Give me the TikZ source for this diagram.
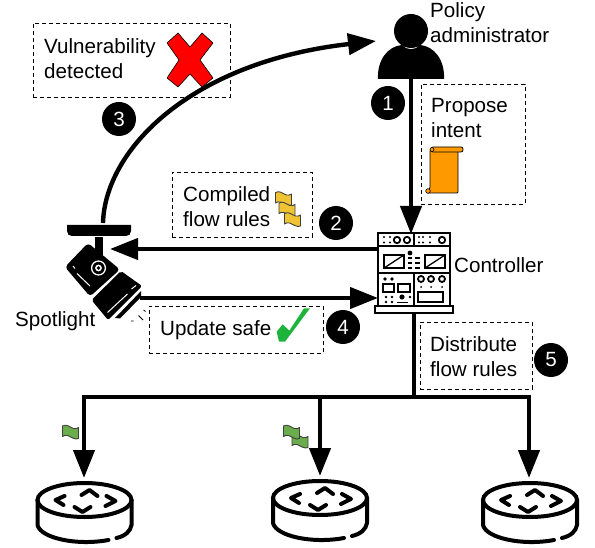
\documentclass[tikz,border=0pt]{standalone}
\usepackage{fontspec}
\setmainfont{Liberation Sans}
\usetikzlibrary{arrows.meta}
\definecolor{flaggreen}{RGB}{106,173,76}
\definecolor{flagyellow}{RGB}{240,195,50}
\definecolor{scrollorange}{RGB}{255,153,0}
\definecolor{checkgreen}{RGB}{30,180,60}
\definecolor{crossred}{RGB}{255,0,0}
\tikzset{
 lbl/.style={font=\fontsize{20.6}{25}\selectfont,align=left,inner sep=0pt,anchor=west},
 dbox/.style={draw,line width=0.9pt,dash pattern=on 4pt off 3pt},
 conn/.style={line width=4.4pt,-{Triangle[length=28pt,width=21pt]}},
 num/.style={circle,fill=black,text=white,minimum size=34pt,inner sep=0pt,font=\fontsize{20.6}{22}\selectfont},
 router/.pic={
  \draw[line width=4pt] (0,0) ellipse (47 and 17);
  \draw[line width=4pt,line cap=round] (-47,0) -- (-47,25) .. controls (-44,38) and (-8,46) .. (24,40);
  \draw[line width=4pt,line cap=round] (47,0) -- (47,25) .. controls (46,31) and (41,36) .. (32,38);
  \draw[line width=4pt,line cap=round,line join=round] (-20,-4) -- (-29,0) -- (-21,5);
  \draw[line width=4pt,line cap=round,line join=round] (22,-4) -- (31,1) -- (21,6);
  \draw[line width=4pt,line cap=round,line join=round] (-3,-5) -- (5,-10) -- (13,-4);
  \draw[line width=4pt,line cap=round,line join=round] (-10,7) -- (-2,12) -- (6,7);
 },
 flagshape/.pic={
  \draw[pic actions,draw=black!75,line width=0.9pt,line join=round] (-8,-6.5) .. controls (-4,-9) and (0,-5) .. (3,-4) .. controls (5,-3.5) and (7,-4) .. (8,-5) -- (8,6) .. controls (5,8) and (0,4) .. (-3,3) .. controls (-5,2.5) and (-7,3) .. (-8,4) -- cycle;
 }
}
\begin{document}
\begin{tikzpicture}[x=1pt,y=-1pt]
\useasboundingbox (0,0) rectangle (595,548);
% dashed boxes
\node[dbox,minimum width=197pt,minimum height=74pt,anchor=north west] (bv) at (33,23) {};
\node[dbox,minimum width=104pt,minimum height=120pt,anchor=north west] (bp) at (421,84) {};
\node[dbox,minimum width=140pt,minimum height=65pt,anchor=north west] (bc) at (172,172) {};
\node[dbox,minimum width=174pt,minimum height=47pt,anchor=north west] (bu) at (149,306) {};
\node[dbox,minimum width=112pt,minimum height=67pt,anchor=north west] (bd) at (420,322) {};
% anchors for connectors
\coordinate (pa) at (411,79);
\coordinate (ctl) at (411,234);
\coordinate (ctlb) at (414,313);
\coordinate (bus) at (414,397);
\coordinate (busl) at (84,397);
\coordinate (busm) at (320,397);
\coordinate (busr) at (529,397);
\coordinate (r1) at (84,478);
\coordinate (r2) at (320,476);
\coordinate (r3) at (529,478);
\coordinate (camtop) at (103,223);
\coordinate (patop) at (376,41);
\coordinate (camr) at (110,249);
\coordinate (ctll) at (380,249);
\coordinate (camr2) at (140,298);
\coordinate (ctll2) at (378,298);
% connectors
\draw[conn] (pa) -- (ctl);
\draw[conn] (camtop) .. controls (105,150) and (190,62) .. (patop);
\draw[conn] (ctll) -- (camr);
\draw[conn] (camr2) -- (ctll2);
\draw[line width=4.4pt] (ctlb) -- (bus);
\draw[line width=4.4pt,line cap=rect] (busl) -- (busr);
\draw[conn] (busl) -- (r1);
\draw[conn] (busm) -- (r2);
\draw[conn] (busr) -- (r3);
% person
\fill (411,31) circle (17);
\fill (378,79) .. controls (377,60) and (388,46) .. (402,45) .. controls (406,50.5) and (416,50.5) .. (420,45) .. controls (434,46) and (445,60) .. (444,79) -- cycle;
% Controller
\begin{scope}[shift={(414,270)}]
 \draw[line width=2.5pt,fill=white] (-36,-37) rectangle (36,36);
 \draw[line width=2.5pt] (-36,-24) -- (36,-24) (-36,3) -- (36,3);
 \draw[line width=2.5pt] (0,-37) -- (0,-24);
 \draw[line width=2.5pt] (0,3) -- (0,36);
 \draw[line width=2.5pt,fill=white] (-39,36) rectangle (39,43);
 % top row
 \foreach \x/\y in {-30/-33,-24/-33,-30/-27.5,-24/-27.5,5/-33,9/-33,16/-33,5/-27.5,9/-27.5,16/-27.5}{\fill (\x,\y) circle (1.2);}
 \foreach \x in {-17,-7,28}{\draw[line width=1.8pt] (\x,-30) circle (3.2);}
 % meters
 \foreach \x in {-30,11}{\draw[line width=2pt] (\x,-15) rectangle (\x+20,-2); \draw[line width=1.3pt] (\x,-2) -- (\x+20,-15);}
 \fill (-4,-17) circle (2.4);
 \foreach \y in {-12,-7,-2}{\fill (-6,\y-1) rectangle (-2,\y+1); \fill (1,\y-1) rectangle (6,\y+1);}
 % lower left
 \foreach \x in {-29,-22}{\fill (\x,9) circle (1.8);}
 \draw[line width=2pt] (-31,14) rectangle (-20,22);
 \draw[line width=2pt] (-16,14) rectangle (-4,22);
 \foreach \x/\y in {-28/27,-22/27,-28/32,-22/32,-4/27}{\fill (\x,\y) circle (1.4);}
 \fill (-12,27) circle (2.6);
 \fill (-17,32) rectangle (-6,33.5);
 % lower right
 \foreach \x in {7,17,28}{\draw[line width=1.8pt] (\x,9) circle (3); \fill (\x,17) circle (1);}
 \draw[line width=2pt] (4,22) rectangle (29,32);
\end{scope}
% camera
\fill (67,225) -- (131,225) -- (131,231) .. controls (131,234) and (129,236) .. (126,236) -- (72,236) .. controls (69,236) and (67,234) .. (67,231) -- cycle;
\fill[rounded corners=3.5pt] (65,267) -- (88,243) -- (120,269.5) -- (90,296.5) -- cycle;
\fill[rounded corners=2pt] (91.5,300) -- (121,271) -- (142,286) -- (108,320) -- cycle;
\fill (141,291) -- (115,318) -- (120,318.5) -- (141,297) -- cycle;
\draw[white,line width=1pt] (73,266) -- (75,268.5);
\draw[white,line width=1pt] (77,273.5) -- (90,286);
\draw[white,line width=1pt] (131.5,289) -- (136,285.5);
\draw[white,line width=1pt] (107.5,312.5) -- (127.5,294);
\draw[white,line width=1pt] (114.5,316.5) -- (138,293);
\fill (95,237) rectangle (103,262);
\fill[white] (98.5,268) circle (7.6);
\fill (98.5,268) circle (6.2);
\fill[white] (98.5,268) circle (3.4);
\fill (98.5,268) circle (1.9);
\draw[line width=0.8pt] (138.5,315.5) -- (143,320) (131,321) -- (133.5,321) (143.5,310) -- (145.5,311.5);
% labels
\node[lbl] (t1) at (44,59) {Vulnerability\\detected};
\node[lbl] (t2) at (431,118.5) {Propose\\intent};
\node[lbl] (t3) at (183,207) {Compiled\\flow rules};
\node[lbl] (t4) at (160,330) {Update safe};
\node[lbl] (t5) at (430,357) {Distribute\\flow rules};
\node[lbl] (t6) at (430,22.5) {Policy\\administrator};
\node[lbl] (t7) at (454,265) {Controller};
\node[lbl] (t8) at (15,321) {Spotlight};
% numbers
\node[num] (n1) at (388,103) {1};
\node[num] (n2) at (336,223) {2};
\node[num] (n3) at (119,119) {3};
\node[num] (n4) at (343,327) {4};
\node[num] (n5) at (551,360) {5};
% cross
\fill[crossred,draw=black,line width=0.6pt,line join=round] (178,33) -- (190,47) -- (202,33) -- (213,43) -- (200,60) -- (213,78) -- (202,87) -- (190,74) -- (178,87) -- (167,78) -- (179,60) -- (167,43) -- cycle;
% check
\fill[checkgreen] (276.7,331.7) -- (282.7,324.3) -- (289.3,330.7) -- (304,308.3) -- (310,308.3) -- (285,341.7) -- (279,341.7) -- cycle;
% scroll
\draw[fill=scrollorange,line width=0.8pt,rounded corners=1pt] (430,150) -- (458,150) -- (458,193) -- (427,193) -- (430,188) -- cycle;
\draw[fill=scrollorange,line width=0.8pt,rounded corners=2pt] (431,147) -- (463,147) -- (463,152) -- (431,152) -- cycle;
\draw[fill=scrollorange,line width=0.6pt] (432,149.5) circle (2);
\draw[fill=scrollorange,line width=0.6pt] (428,191) circle (2.3);
% flags
\pic[fill=flagyellow] at (283.5,199) {flagshape};
\pic[fill=flagyellow] at (287,209.5) {flagshape};
\pic[fill=flagyellow] at (292.5,220) {flagshape};
\pic[fill=flaggreen] at (70.5,432.5) {flagshape};
\pic[fill=flaggreen] at (300,441.5) {flagshape};
\pic[fill=flaggreen] at (291.5,432.5) {flagshape};
% routers
\pic at (84.5,500) {router};
\pic at (320,498) {router};
\pic at (530,500) {router};
\end{tikzpicture}
\end{document}
